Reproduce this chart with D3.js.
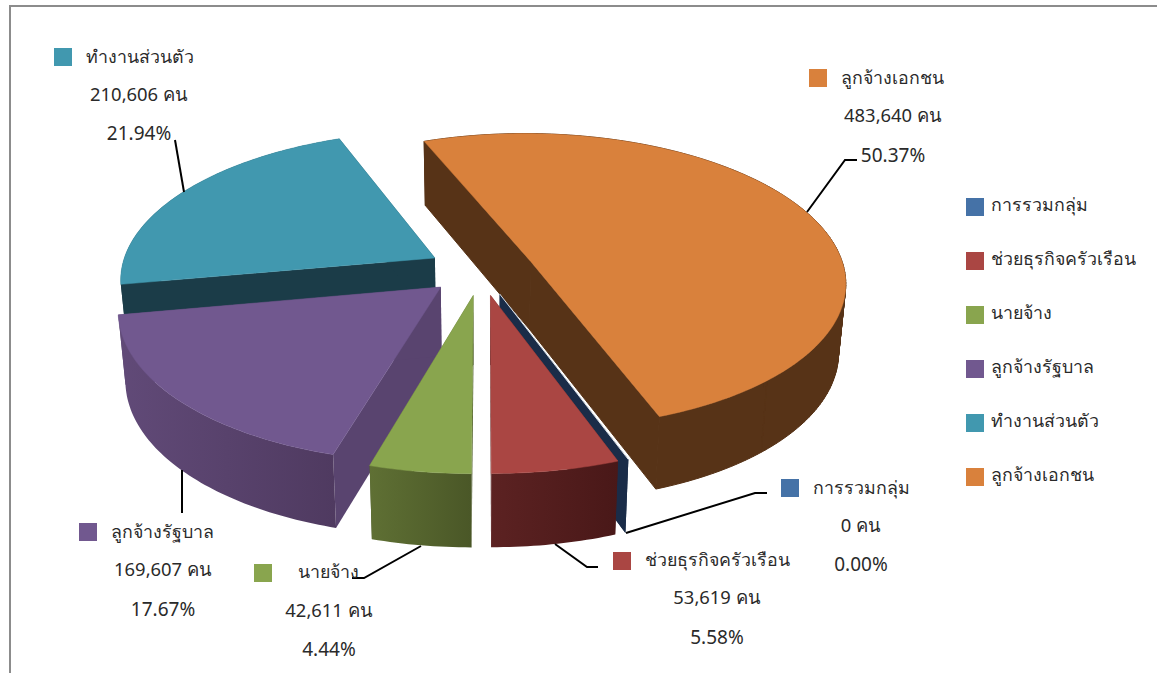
<!DOCTYPE html>
<html>
<head>
<meta charset="utf-8">
<script src="https://cdn.jsdelivr.net/npm/d3@7"></script>
<style>
	html, body { margin: 0; padding: 0; background: #fff; }
	svg { display: block; }
	text { font-family: "Noto Sans", "DejaVu Sans", sans-serif; fill: #2a2a2a; }
	.name { font-size: 17.8px; }
	.count { font-size: 18.4px; }
	.percent { font-size: 19px; }
</style>
</head>
<body>
<svg id="chart" width="1157" height="673"></svg>
<script>
const categories = ['การรวมกลุ่ม', 'ช่วยธุรกิจครัวเรือน', 'นายจ้าง', 'ลูกจ้างรัฐบาล', 'ทำงานส่วนตัว', 'ลูกจ้างเอกชน'];
const counts = [0, 53619, 42611, 169607, 210606, 483640];
const countLabels = ['0 คน', '53,619 คน', '42,611 คน', '169,607 คน', '210,606 คน', '483,640 คน'];
const percentLabels = ['0.00%', '5.58%', '4.44%', '17.67%', '21.94%', '50.37%'];
const colors = ['#4572A7', '#AA4643', '#89A54E', '#71588F', '#4198AF', '#D9813C'];

const width = 1157, height = 673;
const cx = 481, cy = 270, rx = 314, ry = 147;
const depth = 7.46, explode = 0.17;
const rad = Math.PI / 180;

const svg = d3.select('#chart');
const defs = svg.append('defs');

// wall colours: left and right end of the rim gradient, and the flat cut face
const wallLeft = ['#1a2c48', '#5c2222', '#5f7034', '#614a78', '#1b3c48', '#573317'];
const wallRight = ['#1a2c48', '#491818', '#4a5727', '#4f3a60', '#1b3c48', '#573317'];
const wallFace = ['#1a2c48', '#491818', '#4a5727', '#59446f', '#1b3c48', '#573317'];
// the orange walls all have one colour, a thin stroke hides the joins between them
const wallStroke = [0, 0, 0, 0, 0, 1];

const slices = d3.pie().sort(null).value(d => d)
	.startAngle(160 * rad).endAngle(520 * rad)(counts);

// world position on the pie plane, exploded along the slice's middle angle, then projected
function project(slice, angle, r, bottom) {
	const mid = (slice.startAngle + slice.endAngle) / 2;
	const X = explode * Math.sin(mid) + r * Math.sin(angle);
	const Y = explode * Math.cos(mid) + r * Math.cos(angle);
	const s = depth / (depth + Y);
	const px = rx * X * s * (bottom ? 0.98 : 1);
	const py = -ry * Y * s + (bottom ? 68.5 - 4.5 * Y : 0);
	return [cx + px, cy + py];
}

function arcAngles(slice) {
	const n = Math.max(2, Math.ceil((slice.endAngle - slice.startAngle) / rad));
	return d3.range(n + 1).map(i => slice.startAngle + (slice.endAngle - slice.startAngle) * i / n);
}

const line = d3.line().curve(d3.curveLinearClosed);

// back to front
const drawOrder = [4, 5, 0, 3, 2, 1];

drawOrder.forEach(i => {
	const d = slices[i];
	const g = svg.append('g').attr('class', 'slice');
	const angles = arcAngles(d);

	const grad = defs.append('linearGradient').attr('id', 'wall' + i);
	grad.append('stop').attr('offset', '0%').attr('stop-color', wallLeft[i]);
	grad.append('stop').attr('offset', '100%').attr('stop-color', wallRight[i]);

	[d.startAngle, d.endAngle].forEach(a => {
		g.append('path')
			.attr('d', line([
				project(d, a, 0, false),
				project(d, a, 1, false),
				project(d, a, 1, true),
				project(d, a, 0, true)
			]))
			.attr('fill', wallFace[i])
			.attr('stroke', wallFace[i])
			.attr('stroke-width', wallStroke[i]);
	});

	if (d.value > 0) {
		// rim as one path of small quads, so the silhouette follows the side tangents
		const rim = d3.pairs(angles).map(([a, b]) => line([
			project(d, a, 1, false),
			project(d, b, 1, false),
			project(d, b, 1, true),
			project(d, a, 1, true)
		])).join('');
		g.append('path').attr('d', rim).attr('fill', `url(#wall${i})`)
			.attr('stroke', wallStroke[i] ? wallFace[i] : 'none')
			.attr('stroke-width', wallStroke[i]);

		const top = [project(d, 0, 0, false)].concat(angles.map(a => project(d, a, 1, false)));
		g.append('path').attr('d', line(top))
			.attr('fill', colors[i]).attr('stroke', colors[i]).attr('stroke-width', 0.5);
	} else {
		g.append('path')
			.attr('d', d3.line()([project(d, d.startAngle, 0, false), project(d, d.startAngle, 1, false)]))
			.attr('stroke', '#d8dde4').attr('stroke-width', 1).attr('fill', 'none');
	}
});

// leader lines
const leaders = [
	[[626, 533], [755, 493], [767, 493]],
	[[555, 544], [587, 567], [598, 567]],
	[[421, 546], [364, 578], [352, 578]],
	[[182, 470], [182, 513]],
	[[175, 140], [184, 192]],
	[[807, 212], [845, 160], [857, 160]]
];
leaders.forEach(pts => {
	svg.append('path').attr('d', d3.line()(pts))
		.attr('fill', 'none').attr('stroke', '#000').attr('stroke-width', 2);
});

// data labels: swatch corner, text start, centre of the value lines, and the three line centres
const labelSwatch = [[781, 479], [613, 552], [254, 564], [79, 523], [54, 48], [809, 69]];
const labelTextX = [813, 645, 298, 111, 86, 841];
const labelCentreX = [861, 717, 329, 163, 139, 893];
const labelLineY = [[488, 526, 564], [560, 598, 637], [572, 611, 649], [532, 570, 609], [57, 95, 133], [78, 116, 155]];

categories.forEach((name, i) => {
	const g = svg.append('g').attr('class', 'label');
	g.append('rect')
		.attr('x', labelSwatch[i][0]).attr('y', labelSwatch[i][1])
		.attr('width', 18).attr('height', 18).attr('fill', colors[i]);
	g.append('text').attr('class', 'name').attr('x', labelTextX[i]).attr('y', labelLineY[i][0]).attr('dy', '0.35em').text(name);
	g.append('text').attr('class', 'count').attr('x', labelCentreX[i]).attr('y', labelLineY[i][1]).attr('dy', '0.35em')
		.attr('text-anchor', 'middle').text(countLabels[i]);
	g.append('text').attr('class', 'percent').attr('x', labelCentreX[i]).attr('y', labelLineY[i][2]).attr('dy', '0.35em')
		.attr('text-anchor', 'middle').text(percentLabels[i]);
});

// legend
const legendY = d3.scalePoint().domain(categories).range([207, 477]);
const legend = svg.append('g').attr('class', 'legend');
categories.forEach((name, i) => {
	legend.append('rect')
		.attr('x', 966).attr('y', legendY(name) - 9)
		.attr('width', 18).attr('height', 18).attr('fill', colors[i]);
	legend.append('text').attr('class', 'name').attr('x', 991).attr('y', legendY(name) - 2).attr('dy', '0.35em').text(name);
});

// frame, only the top and left edges fall inside the picture
svg.append('path').attr('d', d3.line()([[10, height], [10, 6], [width, 6]]))
	.attr('fill', 'none').attr('stroke', '#8c8c8c').attr('stroke-width', 2);
</script>
</body>
</html>
